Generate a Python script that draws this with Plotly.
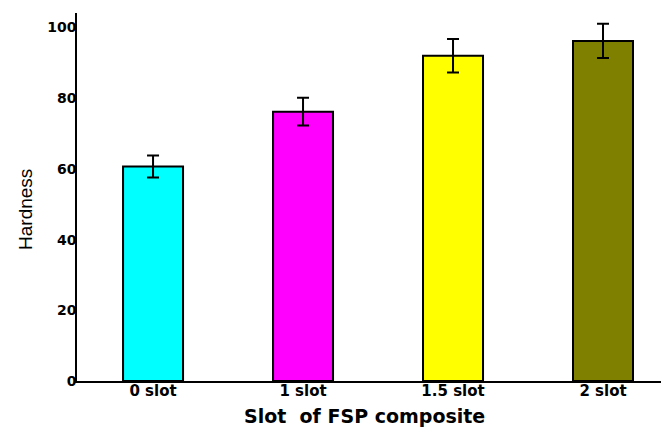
import plotly.graph_objects as go

categories = ["0 slot", "1 slot", "1.5 slot", "2 slot"]
hardness = [60.7, 76.2, 92.0, 96.2]
errors = [3.1, 3.95, 4.75, 4.85]
colors = ["#00FFFF", "#FF00FF", "#FFFF00", "#808000"]
y_ticks = [0, 20, 40, 60, 80, 100]

BOLD = "DejaVu Sans, Liberation Sans, Arial, sans-serif"

fig = go.Figure()
fig.add_trace(go.Bar(
    x=categories,
    y=hardness,
    width=0.4,
    marker=dict(color=colors, line=dict(color="black", width=2)),
    error_y=dict(type="data", array=errors, visible=True,
                 color="black", thickness=2, width=6),
))

# page body has an 8px margin, so the figure is sized/offset to compensate
fig.update_layout(
    width=661, height=420,
    margin=dict(l=69, r=0, t=5, b=47),
    paper_bgcolor="white", plot_bgcolor="white",
    showlegend=False,
    font=dict(family="Liberation Sans, Arial, sans-serif", color="black"),
)
fig.add_annotation(
    text="Hardness", textangle=-90, showarrow=False,
    xref="paper", yref="paper", x=-0.086, y=0.465,
    xanchor="center", yanchor="middle",
    font=dict(size=19, family="Liberation Sans, Arial, sans-serif", color="black"),
)
fig.add_annotation(
    text="Slot  of FSP composite", showarrow=False,
    xref="paper", yref="paper", x=0.486, y=-0.095,
    xanchor="center", yanchor="middle",
    font=dict(size=19, family=BOLD, weight="bold", color="black"),
)
fig.update_xaxes(
    range=[-0.507, 3.44],
    automargin=False,
    showline=True, linecolor="black", linewidth=1.5,
    ticks="", showgrid=False, zeroline=False,
    tickfont=dict(size=15, family=BOLD, weight="bold"),
    ticklabelstandoff=-5,
)
fig.update_yaxes(
    range=[0, 104.1],
    automargin=False,
    tickvals=y_ticks,
    showline=True, linecolor="black", linewidth=1.5,
    ticks="", showgrid=False, zeroline=False,
    tickfont=dict(size=14, family=BOLD, weight="bold"),
    ticklabelstandoff=-4,
)

fig.write_html("out.html")
